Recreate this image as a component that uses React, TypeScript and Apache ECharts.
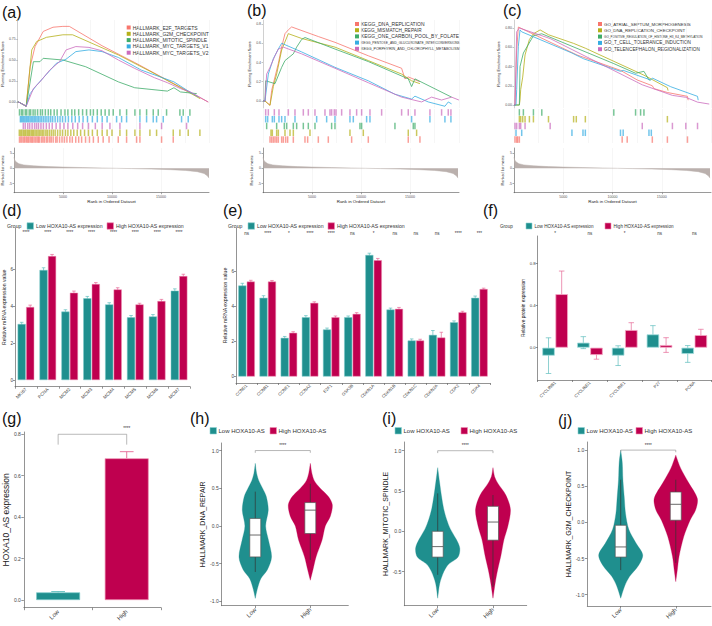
import React, { useEffect, useRef } from "react";
import * as echarts from "echarts";

const FONT = "'Liberation Sans', Arial, Helvetica, sans-serif";
const TEAL = "#1f8f8e";
const CRIMSON = "#bf004f";
const TEAL_ERR = "#5fbdbd";
const CRIMSON_ERR = "#e56896";
const GSEA_COL = ["#F8766D", "#B5B019", "#3FAC69", "#36ADE2", "#CB6CBE"];
const METRIC_COL = "#bab0ad";

// ---------------- (a) HALLMARK GSEA ----------------
const aNames = ["HALLMARK_E2F_TARGETS", "HALLMARK_G2M_CHECKPOINT", "HALLMARK_MITOTIC_SPINDLE", "HALLMARK_MYC_TARGETS_V1", "HALLMARK_MYC_TARGETS_V2"];
const aE2F = [[0, 0], [102, 0], [884, -0.05], [1292, 0.42], [1802, 0.66], [2652, 0.84], [3672, 0.89], [4692, 0.9], [5372, 0.9], [8772, 0.67], [12172, 0.47], [15572, 0.26], [19822, 0]];
const aG2M = [[0, 0], [102, 0], [884, -0.05], [1462, 0.62], [1972, 0.72], [2992, 0.77], [4692, 0.8], [5712, 0.8], [10472, 0.56], [13872, 0.36], [17272, 0.15], [18972, 0.04]];
const aMitotic = [[0, 0], [102, 0], [884, -0.05], [1632, 0.48], [2312, 0.48], [2652, 0.52], [3672, 0.51], [4692, 0.5], [7072, 0.42], [8772, 0.33], [10472, 0.24], [12172, 0.17], [13872, 0.15], [15572, 0.13], [16252, 0.17], [16932, 0.12], [18632, 0.1]];
const aMyc1 = [[0, 0], [102, 0], [884, -0.05], [1292, 0.1], [1972, 0.2], [2992, 0.33], [4012, 0.46], [5032, 0.51], [6052, 0.6], [7412, 0.62], [8772, 0.6], [10472, 0.53], [12852, 0.38], [14552, 0.31], [16252, 0.24], [17612, 0.14], [18802, 0.06]];
const aMyc2 = [[0, 0], [102, 0], [884, -0.05], [1632, 0.16], [2312, 0.24], [3332, 0.38], [4352, 0.48], [5032, 0.62], [6052, 0.66], [7412, 0.65], [8772, 0.61], [10472, 0.5], [12172, 0.4], [14212, 0.29], [15572, 0.23], [16932, 0.16], [17952, 0.12], [19822, 0]];
const aHitE2F = [560, 700, 820, 980, 1100, 1250, 1380, 1500, 1650, 1790, 1900, 2050, 2200, 2350, 2480, 2600, 2800, 2950, 3100, 3300, 3450, 3650, 3800, 4000, 4250, 4400, 4650, 4900, 5150, 5400, 5700, 5950, 6300, 6600, 6900, 7300, 7700, 8100, 8600, 9100, 9700, 10640, 11490, 12510, 12850, 15060, 16250];
const aHitG2M = [540, 680, 800, 950, 1080, 1200, 1350, 1480, 1600, 1750, 1880, 2000, 2150, 2300, 2450, 2600, 2750, 2900, 3050, 3250, 3400, 3600, 3800, 4000, 4200, 4450, 4700, 4950, 5250, 5500, 5800, 6100, 6450, 6800, 7200, 7600, 8000, 8500, 9000, 9500, 10000, 10810, 11490, 12340, 12850, 13870, 14550, 16250, 16930, 17780, 18970];
const aHitMitotic = [560, 760, 900, 1150, 1300, 1550, 1700, 1950, 2150, 2400, 2700, 2900, 3200, 3500, 3750, 4100, 4400, 4800, 5200, 5500, 5900, 6200, 6600, 7000, 7400, 7800, 8100, 8500, 8900, 9300, 9700, 10130, 10810, 11490, 12340, 12850, 13530, 14210, 14720, 15570, 16930, 17270, 17950];
const aHitMyc1 = [650, 760, 880, 1000, 1120, 1250, 1380, 1500, 1640, 1780, 1920, 2060, 2200, 2350, 2500, 2660, 2820, 3000, 3180, 3360, 3550, 3750, 3950, 4200, 4450, 4700, 4950, 5250, 5550, 5900, 6250, 6650, 7050, 7500, 8000, 8500, 9000, 9500, 10470, 10980, 11490, 12850, 13530, 14210, 14550, 15230, 17100, 17780];
const aHitMyc2 = [950, 1150, 1400, 1600, 1850, 2100, 2300, 2500, 2750, 3000, 3300, 3600, 3900, 4300, 4700, 5100, 5500, 6000, 6500, 7000, 7600, 8300, 9000, 9790, 10810, 12850, 15060, 17610];

// ---------------- (b) KEGG GSEA ----------------
const bNames = ["KEGG_DNA_REPLICATION", "KEGG_MISMATCH_REPAIR", "KEGG_ONE_CARBON_POOL_BY_FOLATE", "KEGG_PENTOSE_AND_GLUCURONATE_INTERCONVERSIONS", "KEGG_PORPHYRIN_AND_CHLOROPHYLL_METABOLISM"];
const bDNA = [[0, 0], [204, 0], [714, -0.045], [884, 0.11], [1224, 0.25], [1564, 0.39], [1904, 0.56], [2244, 0.7], [2584, 0.74], [2924, 0.77], [5644, 0.67], [7344, 0.61], [10744, 0.47], [14144, 0.34], [14484, 0.23], [14824, 0.25], [16014, 0.2]];
const bMismatch = [[0, 0], [204, 0], [714, -0.045], [1054, 0.15], [1394, 0.28], [1904, 0.53], [2584, 0.7], [3944, 0.65], [7344, 0.56], [10744, 0.42], [14144, 0.28], [15164, 0.21], [16014, 0.18]];
const bFolate = [[0, 0], [204, 0], [272, 0.21], [1224, 0.18], [1904, 0.35], [2244, 0.42], [3094, 0.49], [3434, 0.56], [3944, 0.64], [4284, 0.66], [7344, 0.54], [10744, 0.41], [14824, 0.23], [15164, 0.15], [15504, 0.23], [19244, 0.04]];
const bPentose = [[0, 0], [204, 0], [544, 0.28], [1054, 0.44], [1564, 0.54], [1904, 0.6], [3944, 0.51], [7344, 0.35], [10744, 0.21], [13464, 0.07], [15164, 0.02], [15504, 0.05], [16864, -0.01], [18564, -0.055], [18904, -0.01], [19244, -0.03]];
const bPorphyrin = [[0, 0], [204, 0], [374, 0.28], [714, 0.35], [1224, 0.47], [1564, 0.54], [2074, 0.56], [3944, 0.49], [7344, 0.34], [10744, 0.19], [14144, 0.04], [16184, -0.01], [17204, 0.04], [18224, 0.01], [19244, 0.04], [19992, 0.01]];
const bHitDNA = [714, 884, 1054, 1224, 1394, 1564, 1904, 2074, 2312, 2516, 3094, 4284, 4556, 5644, 6664, 9044, 10744, 14824, 16014];
const bHitMismatch = [816, 952, 1394, 1564, 2244, 2754, 3094, 4794, 8874, 10234, 14824, 15674];
const bHitFolate = [374, 1394, 2176, 2414, 3094, 3434, 4114, 4624, 5304, 7004, 7344, 9894, 10064, 13464, 15334, 15504];
const bHitPentose = [272, 476, 952, 1156, 1632, 1904, 2244, 3264, 5474, 6494, 7344, 8874, 9214, 10574, 10914, 15164, 17034, 18564, 19176];
const bHitPorphyrin = [272, 544, 1156, 1632, 2584, 3264, 4114, 4624, 5304, 6324, 6834, 7004, 7276, 7446, 8024, 8874, 9554, 10064, 10914, 12104, 14144, 14824, 15504, 17034, 18224, 18904, 19176];

// ---------------- (c) GO GSEA ----------------
const cNames = ["GO_ATRIAL_SEPTUM_MORPHOGENESIS", "GO_DNA_REPLICATION_CHECKPOINT", "GO_POSITIVE_REGULATION_OF_HISTONE_H3_K4_METHYLATION", "GO_T_CELL_TOLERANCE_INDUCTION", "GO_TELENCEPHALON_REGIONALIZATION"];
const cAtrial = [[0, 0], [102, 0], [272, 0.57], [442, 0.81], [6392, 0.52], [10812, 0.36], [12512, 0.26], [14042, 0.2], [14212, 0.17], [15572, 0.13], [17612, 0.09], [17680, 0.05]];
const cCheckpoint = [[0, 0], [544, 0], [612, 0.05], [680, 0.16], [884, 0.29], [1122, 0.52], [1564, 0.68], [1972, 0.74], [2652, 0.78], [3502, 0.73], [6052, 0.64], [7242, 0.59], [13192, 0.31], [15572, 0.18], [15640, 0.15]];
const cHistone = [[0, 0], [544, 0], [612, 0.4], [952, 0.54], [1972, 0.72], [2822, 0.74], [10132, 0.43], [12342, 0.33], [13192, 0.35], [13702, 0.26], [13872, 0.26]];
const cTcell = [[0, 0], [204, 0], [272, 0.16], [442, 0.61], [612, 0.78], [782, 0.76], [5882, 0.54], [7072, 0.48], [10812, 0.35], [11084, 0.36], [13872, 0.26], [14042, 0.28], [15912, 0.19], [18632, 0.09], [18700, 0.05]];
const cTelen = [[0, 0], [102, 0], [272, 0.76], [544, 0.8], [3672, 0.69], [13022, 0.21], [16082, 0.1], [17442, 0.08], [18632, 0.03], [19822, 0.01]];
const cHitAtrial = [102, 272, 374, 544, 10982, 11492, 14042, 15572, 17612];
const cHitCheckpoint = [544, 680, 884, 1122, 1564, 1972, 3502, 6052, 6324, 7242, 15572];
const cHitHistone = [544, 952, 1972, 2822, 10132, 12342, 12852, 13192];
const cHitTcell = [204, 782, 5882, 7004, 7242, 10812, 11084, 13702, 13940];
const cHitTelen = [102, 272, 544, 680, 1122, 3672, 13022, 16082, 17442, 18632];

// ranked list metric (shared)
const rankMetric = [[0, 3.6], [60, 2.8], [200, 2.1], [500, 1.5], [1000, 1.1], [2000, 0.8], [3500, 0.55], [5000, 0.4], [7000, 0.25], [9000, 0.1], [10500, 0], [12000, -0.1], [14000, -0.25], [16000, -0.45], [17500, -0.7], [18700, -1.1], [19400, -1.7], [19750, -2.5], [19900, -3.2]];
const rankTicks = [5000, 10000, 15000];

// ---------------- (d) ----------------
const dGenes = ["MKI67", "PCNA", "MCM2", "MCM3", "MCM4", "MCM5", "MCM6", "MCM7"];
const dLow = [3.03, 5.95, 3.7, 4.42, 4.09, 3.39, 3.44, 4.83];
const dHigh = [3.95, 6.7, 4.72, 5.19, 4.9, 4.09, 4.27, 5.62];
const dLowErr = [0.09, 0.12, 0.1, 0.1, 0.09, 0.1, 0.1, 0.1];
const dHighErr = [0.1, 0.09, 0.09, 0.08, 0.09, 0.06, 0.09, 0.1];
const dSig = ["****", "****", "****", "****", "****", "****", "****", "****"];
const dTicks = [0, 2, 4, 6];

// ---------------- (e) ----------------
const eGenes = ["CCND1", "CCNB1", "CCNE1", "CCNA2", "E2F1", "GSK3B", "CDKN1A", "CDKN1B", "CDKN1C", "CDKN2A", "CDK2", "CDK4"];
const eLow = [5.2, 4.5, 2.21, 3.39, 2.69, 3.39, 6.95, 3.83, 2.06, 2.38, 3.1, 4.5];
const eHigh = [5.43, 5.43, 2.5, 4.21, 3.39, 3.58, 6.65, 3.87, 2.06, 2.23, 3.67, 5.0];
const eLowErr = [0.13, 0.12, 0.08, 0.09, 0.08, 0.07, 0.1, 0.08, 0.09, 0.25, 0.08, 0.1];
const eHighErr = [0.07, 0.06, 0.06, 0.06, 0.07, 0.07, 0.1, 0.08, 0.07, 0.3, 0.06, 0.05];
const eSig = ["ns", "****", "*", "****", "****", "ns", "*", "ns", "ns", "ns", "****", "***"];
const eTicks = [0, 2, 4, 6];

// ---------------- (f) ----------------
const fProteins = ["CYCLINB1", "CYCLIND1", "CYCLINE1", "P27", "PCNA"];
const fLow = [-0.076, 0.048, -0.076, 0.127, -0.06];
const fHigh = [0.51, -0.07, 0.168, 0.025, 0.12];
const fLowErr = [0.17, 0.057, 0.094, 0.083, 0.08];
const fHighErr = [0.22, 0.04, 0.07, 0.07, 0.055];
const fSig = ["*", "ns", "*", "ns", "ns"];
const fTicks = [0, 0.4, 0.8];

// ---------------- (g) ----------------
const gGroups = ["Low", "High"];
const gValues = [0.037, 0.684];
const gErr = [0.004, 0.032];
const gTicks = [0, 0.2, 0.4, 0.6, 0.8];

// ---------------- (h)(i)(j) violins: [value, relative density] ----------------
const hLowViolin = [[0.83, 0], [0.7, 0.06], [0.6, 0.16], [0.5, 0.33], [0.39, 0.5], [0.21, 0.59], [0.0, 0.47], [-0.19, 0.6], [-0.41, 0.74], [-0.58, 0.55], [-0.7, 0.25], [-0.84, 0.09], [-0.96, 0]];
const hHighViolin = [[0.83, 0], [0.7, 0.07], [0.6, 0.18], [0.5, 0.45], [0.39, 0.82], [0.28, 1.0], [0.13, 0.91], [0.0, 0.68], [-0.19, 0.53], [-0.41, 0.26], [-0.58, 0.12], [-0.72, 0]];
const hLowBox = [-0.61, -0.41, -0.12, 0.1, 0.455];
const hHighBox = [-0.45, -0.1, 0.21, 0.31, 0.56];
const iLowViolin = [[0.79, 0], [0.6, 0.09], [0.44, 0.17], [0.28, 0.27], [0.15, 0.4], [0.03, 0.57], [-0.1, 0.84], [-0.21, 1.0], [-0.32, 0.92], [-0.41, 0.49], [-0.5, 0.28], [-0.65, 0.09], [-0.83, 0]];
const iHighViolin = [[0.79, 0], [0.68, 0.07], [0.6, 0.21], [0.45, 0.58], [0.27, 0.79], [0.06, 0.67], [-0.1, 0.5], [-0.3, 0.36], [-0.48, 0.21], [-0.64, 0.1], [-0.83, 0]];
const iLowBox = [-0.54, -0.32, -0.19, 0.0, 0.47];
const iHighBox = [-0.69, -0.11, 0.115, 0.31, 0.45];
const jLowViolin = [[1.0, 0], [0.83, 0.07], [0.59, 0.1], [0.35, 0.16], [0.12, 0.22], [-0.1, 0.37], [-0.29, 0.7], [-0.45, 1.0], [-0.6, 0.8], [-0.75, 0.4], [-0.88, 0.18], [-1.05, 0]];
const jHighViolin = [[0.93, 0], [0.75, 0.22], [0.55, 0.58], [0.33, 0.98], [0.17, 0.9], [0.03, 0.65], [-0.2, 0.36], [-0.47, 0.15], [-0.66, 0.07], [-0.82, 0]];
const jLowBox = [-0.66, -0.48, -0.34, -0.04, 0.59];
const jHighBox = [-0.56, 0.03, 0.25, 0.42, 0.59];
const violinTicks = [-1, -0.5, 0, 0.5, 1];

function buildOption() {
  const grids: any[] = [];
  const xAxes: any[] = [];
  const yAxes: any[] = [];
  const series: any[] = [];
  const graphics: any[] = [];
  const txt = (text: string, x: number, y: number, fontSize: number, extra: any = {}) =>
    graphics.push({ type: "text", x, y, silent: true, style: { text, fontSize, fontFamily: FONT, fill: extra.fill || "#222", align: extra.align || "left", verticalAlign: extra.verticalAlign || "middle" } });
  const box = (x: number, y: number, w: number, h: number, color: string, stroke?: string) =>
    graphics.push({ type: "rect", silent: true, shape: { x, y, width: w, height: h }, style: { fill: color, stroke: stroke || "none", lineWidth: stroke ? 0.6 : 0 } });

  // ---------- GSEA panels ----------
  const addGsea = (cfg: any) => {
    const g = grids.length;
    grids.push({ left: cfg.left, top: 20, width: cfg.width, height: 88 });
    grids.push({ left: cfg.left, top: 109, width: cfg.width, height: 34 });
    grids.push({ left: cfg.left, top: 148, width: cfg.width, height: 44.7 });
    const faint = { show: true, lineStyle: { color: "#ececec", width: 0.5 } };
    xAxes.push({ gridIndex: g, type: "value", min: 0, max: cfg.max, interval: 2500, axisLine: { show: false, onZero: false }, axisTick: { show: false }, axisLabel: { show: false }, splitLine: faint });
    xAxes.push({ gridIndex: g + 1, type: "value", min: 0, max: cfg.max, interval: 2500, axisLine: { show: false, onZero: false }, axisTick: { show: false }, axisLabel: { show: false }, splitLine: faint });
    xAxes.push({
      gridIndex: g + 2, type: "value", min: 0, max: cfg.max, interval: 2500,
      axisLine: { show: true, onZero: false, lineStyle: { color: "#555", width: 0.6 } },
      axisTick: { show: true, customValues: rankTicks, length: 1.5, lineStyle: { color: "#555", width: 0.5 } },
      axisLabel: { customValues: rankTicks, fontSize: 3.6, color: "#555", margin: 2, fontFamily: FONT, formatter: (v: number) => (v % 5000 === 0 && v > 0 && v < 19000 ? String(v) : "") },
      splitLine: faint,
      name: "Rank in Ordered Dataset", nameLocation: "middle", nameGap: 6, nameTextStyle: { fontSize: 4.4, color: "#222", fontFamily: FONT },
    });
    yAxes.push({
      gridIndex: g, type: "value", min: cfg.esMin, max: cfg.esMax,
      axisLine: { show: true, onZero: false, lineStyle: { color: "#aaa", width: 0.5 } },
      axisTick: { show: true, customValues: cfg.esTicks, length: 1.5, lineStyle: { color: "#888", width: 0.5 } },
      axisLabel: { customValues: cfg.esTicks, fontSize: 3.5, color: "#555", margin: 2, fontFamily: FONT, formatter: (v: number) => v.toFixed(cfg.digits) },
      splitLine: { show: false },
      name: "Running Enrichment Score", nameLocation: "middle", nameGap: 8, nameTextStyle: { fontSize: 3.8, color: "#222", fontFamily: FONT },
    });
    yAxes.push({ gridIndex: g + 1, type: "category", inverse: true, data: ["0", "1", "2", "3", "4"], show: false });
    yAxes.push({
      gridIndex: g + 2, type: "value", min: -7.97, max: 6.63,
      axisLine: { show: true, onZero: false, lineStyle: { color: "#555", width: 0.6 } },
      axisTick: { show: true, customValues: [-5, 0, 5], length: 1.5, lineStyle: { color: "#555", width: 0.5 } },
      axisLabel: { customValues: [-5, 0, 5], fontSize: 3.5, color: "#555", margin: 2, fontFamily: FONT },
      splitLine: { show: false },
      name: "Ranked list metric", nameLocation: "middle", nameGap: 7, nameTextStyle: { fontSize: 3.8, color: "#222", fontFamily: FONT },
    });
    cfg.curves.forEach((c: number[][], k: number) => {
      series.push({ type: "line", name: cfg.names[k], xAxisIndex: g, yAxisIndex: g, data: c, showSymbol: false, silent: true, lineStyle: { width: 0.8, color: GSEA_COL[k] }, itemStyle: { color: GSEA_COL[k] }, z: 3 });
      series.push({ type: "scatter", name: "hits" + g + "_" + k, xAxisIndex: g + 1, yAxisIndex: g + 1, symbol: "rect", symbolSize: [1.5, 6.5], silent: true, data: cfg.hits[k].map((r: number) => [r, cfg.rows[k]]), itemStyle: { color: GSEA_COL[k], opacity: 0.7 } });
    });
    series.push({ type: "line", name: "metric" + g, xAxisIndex: g + 2, yAxisIndex: g + 2, data: rankMetric, showSymbol: false, silent: true, lineStyle: { width: 0.5, color: METRIC_COL }, areaStyle: { color: METRIC_COL, opacity: 1 } });
    cfg.names.forEach((n: string, k: number) => {
      const y = cfg.legY + k * cfg.legPitch;
      box(cfg.legX, y - 2, 4, 4, GSEA_COL[k]);
      txt(n, cfg.legX + 6, y, cfg.legFont[k], { fill: "#333" });
    });
  };

  addGsea({ left: 14, width: 195, max: 19900, esMin: -0.071, esMax: 0.976, esTicks: [0, 0.25, 0.5, 0.75], digits: 2, names: aNames, curves: [aE2F, aG2M, aMitotic, aMyc1, aMyc2], hits: [aHitE2F, aHitG2M, aHitMitotic, aHitMyc1, aHitMyc2], rows: [4, 3, 0, 1, 2], legX: 126.7, legY: 27.5, legPitch: 6.3, legFont: [5, 5, 5, 5, 5] });
  addGsea({ left: 263, width: 196, max: 20000, esMin: -0.073, esMax: 0.842, esTicks: [0, 0.2, 0.4, 0.6, 0.8], digits: 1, names: bNames, curves: [bDNA, bMismatch, bFolate, bPentose, bPorphyrin], hits: [bHitDNA, bHitMismatch, bHitFolate, bHitPentose, bHitPorphyrin], rows: [4, 3, 2, 1, 0], legX: 355, legY: 24, legPitch: 6.2, legFont: [5, 4.7, 4.9, 3.3, 3.65] });
  addGsea({ left: 514, width: 197, max: 20000, esMin: -0.031, esMax: 0.883, esTicks: [0, 0.2, 0.4, 0.6, 0.8], digits: 2, names: cNames, curves: [cAtrial, cCheckpoint, cHistone, cTcell, cTelen], hits: [cHitAtrial, cHitCheckpoint, cHitHistone, cHitTcell, cHitTelen], rows: [4, 1, 0, 3, 2], legX: 598, legY: 24, legPitch: 6.3, legFont: [4.4, 4.4, 3.1, 4.7, 4.7] });

  // ---------- grouped bar panels ----------
  const LOWN = "Low HOXA10-AS expression";
  const HIGHN = "High HOXA10-AS expression";
  const axisGrey = { color: "#666", width: 0.7 };
  const addBars = (cfg: any) => {
    const g = grids.length;
    grids.push({ left: cfg.left, top: cfg.top, width: cfg.width, height: cfg.height });
    xAxes.push({
      gridIndex: g, type: "category", data: cfg.cats,
      axisLine: { show: true, onZero: false, lineStyle: axisGrey }, axisTick: { show: true, length: 2, lineStyle: axisGrey },
      axisLabel: { rotate: 45, fontSize: cfg.xFont, color: "#444", margin: 2, interval: 0, fontFamily: FONT },
      splitLine: { show: false },
    });
    yAxes.push({
      gridIndex: g, type: "value", min: cfg.yMin, max: cfg.yMax,
      axisLine: { show: true, onZero: false, lineStyle: axisGrey },
      axisTick: { show: true, customValues: cfg.ticks, length: 2, lineStyle: axisGrey },
      axisLabel: { customValues: cfg.ticks, fontSize: cfg.yFont, color: "#444", margin: 2, fontFamily: FONT, formatter: (v: number) => v.toFixed(cfg.digits) },
      splitLine: { show: false },
      name: cfg.yName, nameLocation: "middle", nameGap: cfg.nameGap, nameTextStyle: { fontSize: cfg.nameFont, color: "#222", fontFamily: FONT },
    });
    const bw = cfg.barFrac;
    const gap = 0.05;
    const off = (bw * (1 + gap)) / 2;
    const errSeries = (vals: number[], errs: number[], side: number, color: string) => ({
      type: "custom", xAxisIndex: g, yAxisIndex: g, silent: true, z: 1, clip: false,
      data: vals.map((v, i) => [i, v, errs[i]]),
      renderItem: (params: any, api: any) => {
        const c = api.value(0), v = api.value(1), e = api.value(2);
        const band = api.size([1, 0])[0];
        const lo = api.coord([c, v - e]);
        const hi = api.coord([c, v + e]);
        const x = lo[0] + side * off * band;
        const cap = band * bw * 0.22;
        const st = { stroke: color, lineWidth: 0.7 };
        return {
          type: "group", children: [
            { type: "line", shape: { x1: x, y1: lo[1], x2: x, y2: hi[1] }, style: st },
            { type: "line", shape: { x1: x - cap, y1: hi[1], x2: x + cap, y2: hi[1] }, style: st },
            { type: "line", shape: { x1: x - cap, y1: lo[1], x2: x + cap, y2: lo[1] }, style: st },
          ],
        };
      },
    });
    series.push(errSeries(cfg.low, cfg.lowErr, -1, TEAL_ERR));
    series.push(errSeries(cfg.high, cfg.highErr, 1, CRIMSON_ERR));
    series.push({ type: "bar", name: LOWN, xAxisIndex: g, yAxisIndex: g, data: cfg.low, barWidth: (bw * 100).toFixed(1) + "%", barGap: gap * 100 + "%", silent: true, z: 2, itemStyle: { color: TEAL, borderColor: cfg.lowBorder, borderWidth: cfg.borderW } });
    series.push({ type: "bar", name: HIGHN, xAxisIndex: g, yAxisIndex: g, data: cfg.high, barWidth: (bw * 100).toFixed(1) + "%", barGap: gap * 100 + "%", silent: true, z: 2, itemStyle: { color: CRIMSON, borderColor: cfg.highBorder, borderWidth: cfg.borderW } });
    series.push({
      type: "custom", xAxisIndex: g, yAxisIndex: g, silent: true, clip: false, z: 3,
      data: cfg.sig.map((s: string, i: number) => [i, cfg.sigY]),
      renderItem: (params: any, api: any) => {
        const p = api.coord([api.value(0), api.value(1)]);
        return { type: "text", x: p[0], y: p[1], style: { text: cfg.sig[params.dataIndex], fontSize: cfg.sigFont, fontFamily: FONT, fill: "#333", align: "center", verticalAlign: "middle" } };
      },
    });
    // legend
    txt("Group", cfg.legGroupX, cfg.legY, cfg.legFont, { fill: "#333" });
    box(cfg.legBox1, cfg.legY - cfg.legBox / 2, cfg.legBox, cfg.legBox, TEAL, "#8fd3d3");
    txt(LOWN, cfg.legBox1 + cfg.legBox + 2.5, cfg.legY, cfg.legFont, { fill: "#333" });
    box(cfg.legBox2, cfg.legY - cfg.legBox / 2, cfg.legBox, cfg.legBox, CRIMSON, "#f08db3");
    txt(HIGHN, cfg.legBox2 + cfg.legBox + 2.5, cfg.legY, cfg.legFont, { fill: "#333" });
  };

  addBars({ left: 15, top: 228, width: 175, height: 158.7, cats: dGenes, low: dLow, high: dHigh, lowErr: dLowErr, highErr: dHighErr, sig: dSig, sigY: 7.95, sigFont: 4.5, yMin: -0.36, yMax: 8.22, ticks: dTicks, digits: 0, xFont: 4.6, yFont: 4.6, yName: "Relative mRNA expression value", nameGap: 6.5, nameFont: 5.2, barFrac: 0.37, lowBorder: "#7ccaca", highBorder: "#ee8fb2", borderW: 0.5, legGroupX: 7, legY: 226, legBox1: 27, legBox2: 107, legBox: 6.5, legFont: 5.2 });
  addBars({ left: 236, top: 228, width: 254, height: 155, cats: eGenes, low: eLow, high: eHigh, lowErr: eLowErr, highErr: eHighErr, sig: eSig, sigY: 8.2, sigFont: 4.5, yMin: -0.37, yMax: 8.49, ticks: eTicks, digits: 0, xFont: 4.3, yFont: 4.6, yName: "Relative mRNA expression value", nameGap: 6.5, nameFont: 5.2, barFrac: 0.38, lowBorder: "#7ccaca", highBorder: "#ee8fb2", borderW: 0.5, legGroupX: 228, legY: 226, legBox1: 248, legBox2: 328, legBox: 6.5, legFont: 5.2 });
  addBars({ left: 537.7, top: 236, width: 174, height: 144, cats: fProteins, low: fLow, high: fHigh, lowErr: fLowErr, highErr: fHighErr, sig: fSig, sigY: 1.09, sigFont: 4.5, yMin: -0.308, yMax: 1.064, ticks: fTicks, digits: 1, xFont: 4.3, yFont: 4.3, yName: "Relative protein expression", nameGap: 8, nameFont: 4.8, barFrac: 0.36, lowBorder: "#a6dede", highBorder: "#f5a6c4", borderW: 0.8, legGroupX: 500, legY: 226, legBox1: 526, legBox2: 605, legBox: 6, legFont: 4.6 });

  // ---------- brackets ----------
  function bracket(g: number, x0: number, x1: number, yTop: number, yEnd: number, yText: number, text: string) {
    return {
      type: "custom", xAxisIndex: g, yAxisIndex: g, silent: true, clip: false, z: 5,
      data: [[x0, yTop]],
      renderItem: (params: any, api: any) => {
        const a = api.coord([x0, yEnd]), b = api.coord([x0, yTop]), c = api.coord([x1, yTop]), d = api.coord([x1, yEnd]);
        const t = api.coord([(x0 + x1) / 2, yText]);
        return { type: "group", children: [
          { type: "polyline", shape: { points: [a, b, c, d] }, style: { stroke: "#9a9a9a", lineWidth: 0.7, fill: "none" } },
          { type: "text", x: t[0], y: t[1], style: { text, fontSize: 4.5, fontFamily: FONT, fill: "#333", align: "center", verticalAlign: "middle" } },
        ] };
      },
    };
  }

  // ---------- (g) ----------
  {
    const g = grids.length;
    grids.push({ left: 21.7, top: 432, width: 139.3, height: 175.7 });
    xAxes.push({ gridIndex: g, type: "category", data: gGroups, axisLine: { show: true, onZero: false, lineStyle: axisGrey }, axisTick: { show: true, length: 2.5, lineStyle: axisGrey }, axisLabel: { rotate: 45, fontSize: 6, color: "#444", margin: 3, fontFamily: FONT }, splitLine: { show: false } });
    yAxes.push({ gridIndex: g, type: "value", min: -0.037, max: 0.811, axisLine: { show: true, onZero: false, lineStyle: axisGrey }, axisTick: { show: true, customValues: gTicks, length: 2.5, lineStyle: axisGrey }, axisLabel: { customValues: gTicks, fontSize: 5, color: "#444", margin: 3, fontFamily: FONT, formatter: (v: number) => v.toFixed(1) }, splitLine: { show: false }, name: "HOXA10_AS expression", nameLocation: "middle", nameGap: 11, nameTextStyle: { fontSize: 8.5, color: "#222", fontFamily: FONT } });
    series.push({
      type: "custom", xAxisIndex: g, yAxisIndex: g, silent: true, z: 1,
      data: gValues.map((v, i) => [i, v, gErr[i]]),
      renderItem: (params: any, api: any) => {
        const c = api.value(0), v = api.value(1), e = api.value(2);
        const band = api.size([1, 0])[0];
        const lo = api.coord([c, v]);
        const hi = api.coord([c, v + e]);
        const cap = band * 0.1;
        const color = c === 0 ? TEAL_ERR : CRIMSON_ERR;
        const st = { stroke: color, lineWidth: 0.9 };
        return { type: "group", children: [
          { type: "line", shape: { x1: lo[0], y1: lo[1], x2: hi[0], y2: hi[1] }, style: st },
          { type: "line", shape: { x1: hi[0] - cap, y1: hi[1], x2: hi[0] + cap, y2: hi[1] }, style: st },
        ] };
      },
    });
    series.push({ type: "bar", name: "HOXA10_AS", xAxisIndex: g, yAxisIndex: g, barWidth: "64%", silent: true, z: 2, data: gValues.map((v, i) => ({ value: v, itemStyle: { color: i === 0 ? TEAL : CRIMSON, borderColor: i === 0 ? "#7ccaca" : "#ee8fb2", borderWidth: 0.7 } })) });
    series.push(bracket(g, 0, 1, 0.8, 0.75, 0.826, "****"));
  }

  // ---------- violins ----------
  const violin = (g: number, idx: number, name: string, color: string, profile: number[][], bx: number[]) => ({
    type: "custom", name, xAxisIndex: g, yAxisIndex: g, silent: true, clip: false, itemStyle: { color },
    data: [[idx, bx[2]]],
    renderItem: (params: any, api: any) => {
      const W = 0.4;
      const right = profile.map(([v, d]) => api.coord([idx + d * W, v]));
      const left = profile.slice().reverse().map(([v, d]) => api.coord([idx - d * W, v]));
      const [wl, q1, med, q3, wh] = bx;
      const bw = 0.1;
      const pWl = api.coord([idx, wl]), pWh = api.coord([idx, wh]);
      const tl = api.coord([idx - bw, q3]), br = api.coord([idx + bw, q1]);
      const ml = api.coord([idx - bw, med]), mr = api.coord([idx + bw, med]);
      return { type: "group", children: [
        { type: "polygon", shape: { points: right.concat(left), smooth: 0.3 }, style: { fill: color, stroke: color, lineWidth: 0.3 } },
        { type: "line", shape: { x1: pWl[0], y1: pWl[1], x2: pWh[0], y2: pWh[1] }, style: { stroke: "#333", lineWidth: 0.7 } },
        { type: "rect", shape: { x: tl[0], y: tl[1], width: br[0] - tl[0], height: br[1] - tl[1] }, style: { fill: "#fff", stroke: "#555", lineWidth: 0.7 } },
        { type: "line", shape: { x1: ml[0], y1: ml[1], x2: mr[0], y2: mr[1] }, style: { stroke: "#444", lineWidth: 0.8 } },
      ] };
    },
  });
  const addViolin = (cfg: any) => {
    const g = grids.length;
    grids.push({ left: cfg.left, top: cfg.top, width: cfg.width, height: cfg.height });
    xAxes.push({ gridIndex: g, type: "value", min: cfg.xMin, max: cfg.xMax, axisLine: { show: true, onZero: false, lineStyle: axisGrey }, axisTick: { show: true, customValues: [0, 1], length: 2.5, lineStyle: axisGrey }, axisLabel: { customValues: [0, 1], rotate: 45, fontSize: 6, color: "#444", margin: 3, fontFamily: FONT, formatter: (v: number) => (v === 0 ? "Low" : v === 1 ? "High" : "") }, splitLine: { show: false } });
    yAxes.push({ gridIndex: g, type: "value", min: cfg.yMin, max: cfg.yMax, axisLine: { show: true, onZero: false, lineStyle: axisGrey }, axisTick: { show: true, customValues: cfg.ticks, length: 2.5, lineStyle: axisGrey }, axisLabel: { customValues: cfg.ticks, fontSize: 5, color: "#444", margin: 3, fontFamily: FONT, formatter: (v: number) => v.toFixed(1) }, splitLine: { show: false }, name: cfg.yName, nameLocation: "middle", nameGap: cfg.nameGap, nameTextStyle: { fontSize: 7, color: "#222", fontFamily: FONT } });
    series.push(violin(g, 0, "Low HOXA10-AS", TEAL, cfg.lowV, cfg.lowB));
    series.push(violin(g, 1, "High HOXA10-AS", CRIMSON, cfg.highV, cfg.highB));
    series.push(bracket(g, 0, 1, 1.0, 0.97, 1.065, "****"));
    box(cfg.legX, 427.5, 6.5, 6.5, TEAL, "#8fd3d3");
    txt("Low HOXA10-AS", cfg.legX + 8.5, 430.8, 6, { fill: "#333" });
    box(cfg.legX2, 427.5, 6.5, 6.5, CRIMSON, "#f08db3");
    txt("High HOXA10-AS", cfg.legX2 + 8.5, 430.8, 6, { fill: "#333" });
  };
  addViolin({ left: 221.7, top: 443, width: 126.6, height: 162.7, xMin: -0.61, xMax: 1.69, yMin: -1.057, yMax: 1.1, ticks: violinTicks, yName: "HALLMARK_DNA_REPAIR", nameGap: 12, lowV: hLowViolin, highV: hHighViolin, lowB: hLowBox, highB: hHighBox, legX: 210, legX2: 270 });
  addViolin({ left: 404.3, top: 442, width: 122.4, height: 163.7, xMin: -0.604, xMax: 1.61, yMin: -0.923, yMax: 1.108, ticks: [-0.5, 0, 0.5, 1], yName: "HALLMARK_MITOTIC_SPINDLE", nameGap: 11.5, lowV: iLowViolin, highV: iHighViolin, lowB: iLowBox, highB: iHighBox, legX: 395, legX2: 461 });
  addViolin({ left: 587.3, top: 442, width: 123.7, height: 164, xMin: -0.607, xMax: 1.64, yMin: -1.157, yMax: 1.112, ticks: violinTicks, yName: "HALLMARK_G2M_CHECKPOINT", nameGap: 12.8, lowV: jLowViolin, highV: jHighViolin, lowB: jLowBox, highB: jHighBox, legX: 578, legX2: 636 });

  // panel labels
  const labels: [string, number, number][] = [["(a)", 2, 12], ["(b)", 247, 10], ["(c)", 503, 10], ["(d)", 2, 210], ["(e)", 223, 210], ["(f)", 483, 210], ["(g)", 2, 418], ["(h)", 190, 418], ["(i)", 382, 418], ["(j)", 558, 420]];
  labels.forEach(([t, x, y]) => txt(t, x, y, 16, { fill: "#111" }));

  return {
    animation: false,
    backgroundColor: "#ffffff",
    textStyle: { fontFamily: FONT },
    grid: grids,
    xAxis: xAxes,
    yAxis: yAxes,
    series,
    graphic: { elements: graphics },
  };
}

export default function App() {
  const ref = useRef<HTMLDivElement>(null);
  useEffect(() => {
    if (!ref.current) return;
    const chart = echarts.init(ref.current, undefined, { renderer: "svg" });
    chart.setOption(buildOption() as any);
    return () => chart.dispose();
  }, []);
  return <div ref={ref} style={{ position: "fixed", left: 0, top: 0, width: 712, height: 626, background: "#fff" }} />;
}
